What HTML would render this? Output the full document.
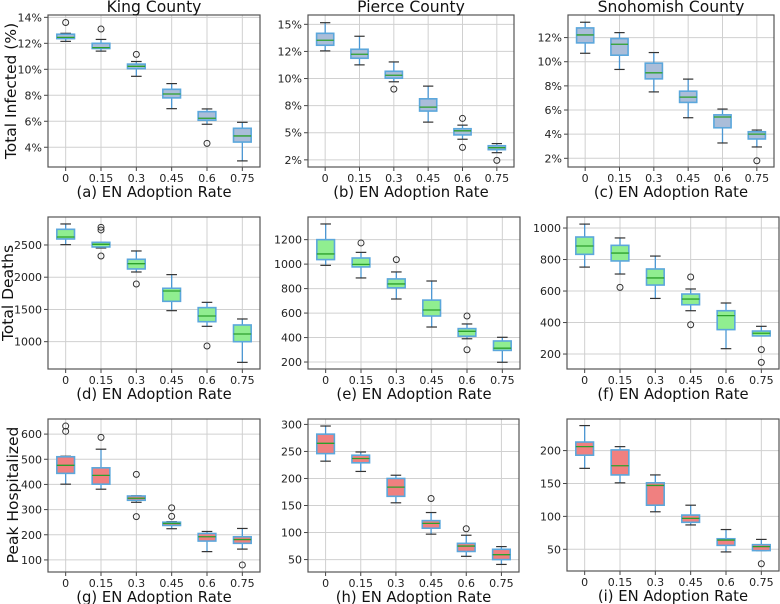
<!DOCTYPE html>
<html><head><meta charset="utf-8"><style>
html,body{margin:0;padding:0;background:#fff;}
svg{display:block;font-family:"DejaVu Sans","Liberation Sans",sans-serif;}
</style></head><body>
<svg id="chart" width="780" height="604" viewBox="0 0 780 604" xmlns="http://www.w3.org/2000/svg"></svg>
<script>
// Category labels
const categories = ["0","0.15","0.3","0.45","0.6","0.75"];
// Each box: [whiskerLow, Q1, median, Q3, whiskerHigh]
const kingInfected = [[12.15,12.36,12.46,12.7,12.77],[11.4,11.6,11.67,12.0,12.3],[9.46,10.05,10.23,10.4,10.6],[6.97,7.8,8.1,8.46,8.9],[5.77,6.08,6.23,6.74,6.95],[2.95,4.4,4.87,5.46,5.92]];
const kingInfectedOut = [[13.6],[13.1],[11.15],[],[4.3],[]];
const pierceInfected = [[12.55,13.07,13.53,14.17,15.15],[11.26,11.87,12.24,12.7,13.9],[9.7,10.03,10.3,10.67,11.53],[5.98,7.0,7.36,8.13,9.3],[4.4,4.8,5.18,5.37,5.7],[3.16,3.44,3.62,3.8,4.0]];
const pierceInfectedOut = [[],[],[9.02],[],[6.32,3.65],[2.45]];
const snohInfected = [[10.7,11.56,12.22,12.8,13.27],[9.36,10.54,11.45,11.92,12.41],[7.5,8.58,9.08,9.88,10.76],[5.36,6.63,7.07,7.56,8.56],[3.27,4.53,5.42,5.6,6.08],[2.94,3.6,4.0,4.2,4.34]];
const snohInfectedOut = [[],[],[],[],[],[1.8]];
const kingDeaths = [[2505,2593,2624,2743,2826],[2453,2469,2510,2541,2541],[2081,2128,2210,2278,2407],[1481,1626,1786,1828,2040],[1238,1310,1398,1528,1610],[679,1000,1119,1259,1352]];
const kingDeathsOut = [[],[2774,2733,2329],[1895],[],[933],[]];
const pierceDeaths = [[990,1037,1083,1200,1328],[887,977,998,1050,1096],[715,806,838,879,936],[486,576,625,706,862],[390,411,451,473,511],[198,295,313,372,402]];
const pierceDeathsOut = [[],[1173],[1037],[],[576,300],[]];
const snohDeaths = [[752,833,886,943,1025],[708,791,841,890,937],[553,638,683,740,822],[475,513,549,581,613],[234,355,444,475,524],[315,315,332,346,376]];
const snohDeathsOut = [[],[623],[],[689,386],[],[228,147]];
const kingHosp = [[401,444,476,510,512],[381,401,436,466,540],[329,337,345,354,355],[224,237,245,250,252],[133,175,192,205,213],[143,166,181,192,225]];
const kingHospOut = [[632,611],[587],[440,272],[307,273],[],[80]];
const pierceHosp = [[232,246,265,282,297],[213,229,237,243,249],[155,167,184,200,206],[97,108,117,122,137],[56,65,75,80,95],[41,50,59,69,74]];
const pierceHospOut = [[],[],[],[163],[107],[]];
const snohHosp = [[173,193,206,213,238],[151,163,177,201,206],[107,117,147,151,163],[87,91,97,102,117],[46,56,64,66,80],[48,48,54,57,65]];
const snohHospOut = [[],[],[],[],[],[28]];
// Tick values and labels
const infKingTicks = [4,6,8,10,12,14];
const infKingLabels = ["4%","6%","8%","10%","12%","14%"];
const infPierceTicks = [2.5,5,7.5,10,12.5,15];
const infPierceLabels = ["2%","5%","8%","10%","12%","15%"];
const infSnohTicks = [2,4,6,8,10,12];
const infSnohLabels = ["2%","4%","6%","8%","10%","12%"];
const deathKingTicks = [1000,1500,2000,2500];
const deathPierceTicks = [200,400,600,800,1000,1200];
const deathSnohTicks = [200,400,600,800,1000];
const hospKingTicks = [100,200,300,400,500,600];
const hospPierceTicks = [50,100,150,200,250,300];
const hospSnohTicks = [50,100,150,200];

const NS="http://www.w3.org/2000/svg";
const svg=document.getElementById('chart');
function mk(tag,attrs,parent){const e=document.createElementNS(NS,tag);for(const k in attrs)e.setAttribute(k,attrs[k]);(parent||svg).appendChild(e);return e;}

const panels=[
 {id:'a',frame:[48,15,260,167],dom:[2.48,14.18],data:kingInfected,out:kingInfectedOut,ticks:infKingTicks,labels:infKingLabels,fill:'#aabdd9',title:'King County'},
 {id:'b',frame:[308,15,514,167],dom:[1.84,15.86],data:pierceInfected,out:pierceInfectedOut,ticks:infPierceTicks,labels:infPierceLabels,fill:'#aabdd9',title:'Pierce County'},
 {id:'c',frame:[568,15,774,167],dom:[1.28,13.87],data:snohInfected,out:snohInfectedOut,ticks:infSnohTicks,labels:infSnohLabels,fill:'#aabdd9',title:'Snohomish County'},
 {id:'d',frame:[48,217,260,369],dom:[576,2934],data:kingDeaths,out:kingDeathsOut,ticks:deathKingTicks,fill:'#90ee90'},
 {id:'e',frame:[308,217,520,369],dom:[143,1385],data:pierceDeaths,out:pierceDeathsOut,ticks:deathPierceTicks,fill:'#90ee90'},
 {id:'f',frame:[567,217,779,369],dom:[105,1070],data:snohDeaths,out:snohDeathsOut,ticks:deathSnohTicks,fill:'#90ee90'},
 {id:'g',frame:[48,419,260,572],dom:[52,660],data:kingHosp,out:kingHospOut,ticks:hospKingTicks,fill:'#f08080'},
 {id:'h',frame:[308,419,519,572],dom:[27,310],data:pierceHosp,out:pierceHospOut,ticks:hospPierceTicks,fill:'#f08080'},
 {id:'i',frame:[567,419,779,571],dom:[17,248],data:snohHosp,out:snohHospOut,ticks:hospSnohTicks,fill:'#f08080'}
];

panels.forEach(p=>{
 const [x0,y0,x1,y1]=p.frame;
 const g=mk('g',{});
 
 
 const step=(x1-x0)/categories.length;
 const xs=i=>x0+step*(i+0.5);
 const ys=v=>y1-(v-p.dom[0])/(p.dom[1]-p.dom[0])*(y1-y0);
 p.ticks.forEach((t,i)=>{
  const y=ys(t);
  const gl=mk('line',{x1:x0,x2:x1,y1:y,y2:y,stroke:'#d0d0d0','stroke-width':1},g);
  
  
  mk('line',{x1:x0-4,x2:x0,y1:y,y2:y,stroke:'#444','stroke-width':1},g);
  const tl=mk('text',{x:x0-6,y:y+4,'text-anchor':'end','font-size':11,fill:'#222'},g);
  
  
  tl.textContent=p.labels?p.labels[i]:String(t);
 });
 categories.forEach((c,i)=>{
  const x=xs(i);
  const gl=mk('line',{x1:x,x2:x,y1:y0,y2:y1,stroke:'#d0d0d0','stroke-width':1},g);
  
  
  mk('line',{x1:x,x2:x,y1:y1,y2:y1+4,stroke:'#444','stroke-width':1},g);
  const tl=mk('text',{x:x,y:y1+15,'text-anchor':'middle','font-size':11,fill:'#222'},g);
  
  
  tl.textContent=c;
 });
 p.data.forEach((b,i)=>{
  const x=xs(i),hw=step*0.25,cw=step*0.15;
  const bg=mk('g',{},g);
  
  
  mk('line',{x1:x,x2:x,y1:ys(b[0]),y2:ys(b[1]),stroke:'#4c97d3','stroke-width':1.3},bg);
  mk('line',{x1:x,x2:x,y1:ys(b[3]),y2:ys(b[4]),stroke:'#4c97d3','stroke-width':1.3},bg);
  mk('line',{x1:x-cw,x2:x+cw,y1:ys(b[0]),y2:ys(b[0]),stroke:'#333','stroke-width':1.2},bg);
  mk('line',{x1:x-cw,x2:x+cw,y1:ys(b[4]),y2:ys(b[4]),stroke:'#333','stroke-width':1.2},bg);
  mk('rect',{x:x-hw,y:ys(b[3]),width:2*hw,height:Math.max(0.5,ys(b[1])-ys(b[3])),fill:p.fill,stroke:'#5ba7dc','stroke-width':1.6},bg);
  mk('line',{x1:x-hw,x2:x+hw,y1:ys(b[2]),y2:ys(b[2]),stroke:'#2ca02c','stroke-width':1.3},bg);
  p.out[i].forEach(o=>{
   const c=mk('circle',{cx:x,cy:ys(o),r:3,fill:'none',stroke:'#333','stroke-width':1},bg);
   
   
  });
 });
 const fr=mk('rect',{x:x0,y:y0,width:x1-x0,height:y1-y0,fill:'none',stroke:'#555','stroke-width':1.2},g);
 
 
 const xl=mk('text',{x:(x0+x1)/2,y:y1+30,'text-anchor':'middle','font-size':14.8,fill:'#111'},g);
 
 
 xl.textContent='('+p.id+') EN Adoption Rate';
 if(p.title){
  const t=mk('text',{x:(x0+x1)/2,y:12,'text-anchor':'middle','font-size':15.6,fill:'#111'},g);
  
  
  t.textContent=p.title;
 }
});
const ylabels=[["Total Infected (%)",11,91],["Total Deaths",8,293],["Peak Hospitalized",13,495]];
ylabels.forEach(l=>{
 const t=mk('text',{x:l[1],y:l[2],'text-anchor':'middle','font-size':15.5,fill:'#111','dominant-baseline':'central',transform:'rotate(-90 '+l[1]+' '+l[2]+')'});
 
 
 t.textContent=l[0];
});
</script>
</body></html>
